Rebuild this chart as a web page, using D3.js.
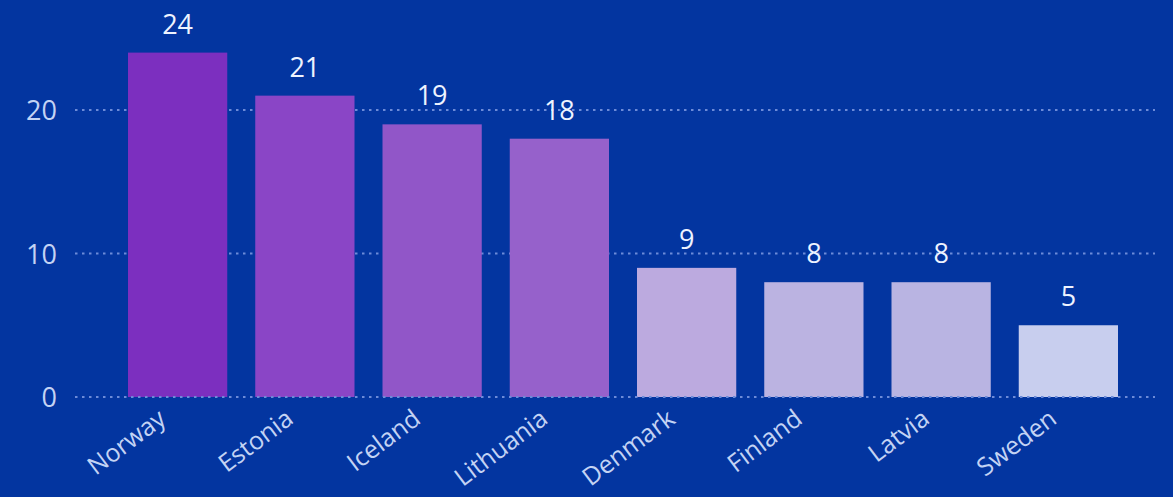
<!DOCTYPE html>
<html>
<head>
<meta charset="utf-8">
<script src="https://cdn.jsdelivr.net/npm/d3@7"></script>
<style>
  html, body { margin: 0; padding: 0; background: #0335a0; }
  svg { display: block; }
</style>
</head>
<body>
<svg id="chart" width="1173" height="497"></svg>
<script>
// Country counts, sorted high to low
const countries = ["Norway", "Estonia", "Iceland", "Lithuania", "Denmark", "Finland", "Latvia", "Sweden"];
const counts = [24, 21, 19, 18, 9, 8, 8, 5];
const barColors = ["#7c2fbf", "#8a45c6", "#9156c8", "#9661cb", "#bcaadf", "#bbb3e1", "#b9b4e2", "#c8ceee"];
const yTicks = [0, 10, 20];

const W = 1173, H = 497;
const svg = d3.select("#chart");
const font = "'Open Sans', 'Noto Sans', sans-serif";

svg.append("rect").attr("width", W).attr("height", H).attr("fill", "#0335a0");

const x = d3.scaleBand()
  .domain(countries)
  .range([114, 1132])
  .paddingInner(0.22)
  .paddingOuter(0.11);

const y = d3.scaleLinear()
  .domain([0, 20])
  .range([397, 110]);

const gridX0 = 75, gridX1 = 1155;
const gridColor = "#6d8bd8";

// Gridlines behind the bars (all except the baseline)
svg.append("g")
  .selectAll("line")
  .data(yTicks.filter(d => d !== 0))
  .join("line")
  .attr("x1", gridX0).attr("x2", gridX1)
  .attr("y1", d => y(d)).attr("y2", d => y(d))
  .attr("stroke", gridColor)
  .attr("stroke-width", 2)
  .attr("stroke-dasharray", "2.5,4.5");

// Bars
svg.append("g")
  .selectAll("rect")
  .data(countries)
  .join("rect")
  .attr("x", d => x(d))
  .attr("width", x.bandwidth())
  .attr("y", (d, i) => y(counts[i]))
  .attr("height", (d, i) => y(0) - y(counts[i]))
  .attr("fill", (d, i) => barColors[i]);

// Baseline drawn over the bars
svg.append("line")
  .attr("x1", gridX0).attr("x2", gridX1)
  .attr("y1", y(0)).attr("y2", y(0))
  .attr("stroke", gridColor)
  .attr("stroke-width", 2)
  .attr("stroke-dasharray", "2.5,4.5");

// Y axis labels
const yAxis = d3.axisLeft(y).tickValues(yTicks).tickSize(0).tickPadding(0);
const yg = svg.append("g").attr("transform", "translate(57,0)").call(yAxis);
yg.select(".domain").remove();
yg.selectAll("text")
  .attr("fill", "#c3d3f4")
  .attr("font-family", font)
  .attr("font-size", 27)
  .attr("dy", "0.36em");

// Value labels
svg.append("g")
  .selectAll("text")
  .data(countries)
  .join("text")
  .attr("x", d => x(d) + x.bandwidth() / 2)
  .attr("y", (d, i) => y(counts[i]) - 19)
  .attr("text-anchor", "middle")
  .attr("fill", "#eef3ff")
  .attr("font-family", font)
  .attr("font-size", 27)
  .text((d, i) => counts[i]);

// Category labels, rotated
const xAxis = d3.axisBottom(x).tickSize(0).tickPadding(0);
const xg = svg.append("g").attr("transform", `translate(0,${y(0)})`).call(xAxis);
xg.select(".domain").remove();
xg.selectAll("text")
  .attr("fill", "#c3d3f4")
  .attr("font-family", font)
  .attr("font-size", 25)
  .attr("text-anchor", "end")
  .attr("dy", 0)
  .attr("transform", "translate(-10,25) rotate(-37)");
</script>
</body>
</html>
